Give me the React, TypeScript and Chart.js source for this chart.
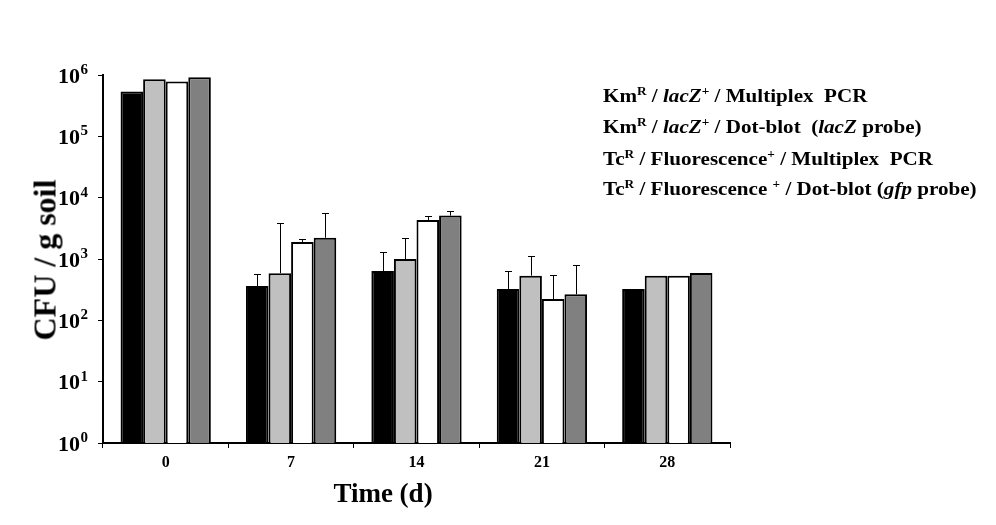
import React, { useEffect, useRef } from "react";
import { Chart, registerables } from "chart.js";

Chart.register(...registerables);

const categories = ["0", "7", "14", "21", "28"];
const kmPcr = [540000, 363, 635, 325, 325];
const kmDot = [850000, 587, 1000, 535, 535];
const tcPcr = [780000, 1900, 4330, 223, 535];
const tcDot = [920000, 2220, 5100, 265, 590];
const kmPcrErr = [0, 199, 665, 303, 0];
const kmDotErr = [0, 3213, 1180, 585, 0];
const tcPcrErr = [0, 190, 690, 317, 0];
const tcDotErr = [0, 3340, 1030, 541, 0];
const yExponents = [0, 1, 2, 3, 4, 5, 6];

const errors = [kmPcrErr, kmDotErr, tcPcrErr, tcDotErr];
const SERIF = "'Liberation Serif', 'Times New Roman', serif";

const errPlugin = {
  id: "errbars",
  afterDatasetsDraw(chart: any) {
    const ctx = chart.ctx;
    const y = chart.scales.y;
    chart.data.datasets.forEach((ds: any, i: number) => {
      const meta = chart.getDatasetMeta(i);
      meta.data.forEach((bar: any, j: number) => {
        const e = errors[i][j];
        if (!e) return;
        const v = ds.data[j];
        const yTop = Math.round(y.getPixelForValue(v + e)) + 0.5;
        const x = Math.round(bar.x) + 0.5;
        ctx.save();
        ctx.strokeStyle = "#000";
        ctx.lineWidth = 1;
        ctx.beginPath();
        ctx.moveTo(x, bar.y);
        ctx.lineTo(x, yTop);
        ctx.moveTo(x - 3.5, yTop);
        ctx.lineTo(x + 3.5, yTop);
        ctx.stroke();
        ctx.restore();
      });
    });
  },
  afterDraw(chart: any) {
    const ctx = chart.ctx;
    const y = chart.scales.y;
    ctx.save();
    ctx.fillStyle = "#000";
    ctx.textBaseline = "alphabetic";
    yExponents.forEach((e) => {
      const py = y.getPixelForValue(Math.pow(10, e));
      const right = 88;
      ctx.font = `bold 15px ${SERIF}`;
      const expStr = String(e);
      const w2 = ctx.measureText(expStr).width;
      ctx.textAlign = "left";
      ctx.fillText(expStr, right - w2, py - 1);
      ctx.font = `bold 22px ${SERIF}`;
      ctx.textAlign = "right";
      ctx.fillText("10", right - w2 - 0.5, py + 7.5);
    });
    ctx.restore();
  },
};

export default function App() {
  const ref = useRef<HTMLCanvasElement>(null);
  useEffect(() => {
    if (!ref.current) return;
    const mk = (label: string, data: number[], color: string) => ({
      label,
      data,
      backgroundColor: color,
      borderColor: "#000",
      borderWidth: 2,
      borderSkipped: "bottom" as const,
    });
    const chart = new Chart(ref.current, {
      type: "bar",
      data: {
        labels: categories,
        datasets: [
          mk("KmR / lacZ+ / Multiplex PCR", kmPcr, "#000000"),
          mk("KmR / lacZ+ / Dot-blot (lacZ probe)", kmDot, "#c0c0c0"),
          mk("TcR / Fluorescence+ / Multiplex PCR", tcPcr, "#ffffff"),
          mk("TcR / Fluorescence + / Dot-blot (gfp probe)", tcDot, "#808080"),
        ],
      },
      options: {
        responsive: false,
        animation: false,
        devicePixelRatio: 1,
        layout: { padding: { left: 1, top: 75, right: 266, bottom: 0 } },
        datasets: { bar: { categoryPercentage: 0.72, barPercentage: 1 } },
        plugins: { legend: { display: false }, tooltip: { enabled: false } },
        scales: {
          x: {
            grid: { display: true, offset: true, drawOnChartArea: false, drawTicks: true, tickLength: 5, color: "#000", lineWidth: 1 },
            border: { display: true, color: "#000", width: 2 },
            ticks: { color: "#000", font: { family: SERIF, size: 16, weight: "bold" }, padding: 5 },
            afterFit: (s: any) => { s.height = 82; },
          },
          y: {
            type: "logarithmic",
            min: 1,
            max: 1000000,
            afterBuildTicks: (s: any) => { s.ticks = yExponents.map((e) => ({ value: Math.pow(10, e) })); },
            grid: { display: true, drawOnChartArea: false, drawTicks: true, tickLength: 5, color: "#000", lineWidth: 1 },
            border: { display: true, color: "#000", width: 2 },
            ticks: { display: false },
            afterFit: (s: any) => { s.width = 102; },
          },
        },
      },
      plugins: [errPlugin],
    } as any);
    return () => chart.destroy();
  }, []);

  const legendLine = (top: number, children: React.ReactNode) => (
    <div style={{ position: "absolute", left: 603, top, fontSize: 19, lineHeight: "19px", whiteSpace: "pre", fontWeight: "bold", transform: "scaleX(1.11)", transformOrigin: "0 50%" }}>{children}</div>
  );
  const sup = (t: string) => (
    <span style={{ fontSize: 12, position: "relative", top: -7 }}>{t}</span>
  );

  return (
    <div style={{ position: "fixed", left: 0, top: 0, width: 996, height: 525, background: "#fff", fontFamily: SERIF, color: "#000" }}>
      <canvas ref={ref} width={996} height={525} style={{ width: 996, height: 525, display: "block" }} />
      {legendLine(86, <>Km{sup("R")} / <i>lacZ</i>{sup("+")} / Multiplex  PCR</>)}
      {legendLine(117, <>Km{sup("R")} / <i>lacZ</i>{sup("+")} / Dot-blot  (<i>lacZ</i> probe)</>)}
      {legendLine(149, <>Tc{sup("R")} / Fluorescence{sup("+")} / Multiplex  PCR</>)}
      {legendLine(179, <>Tc{sup("R")} / Fluorescence {sup("+")} / Dot-blot (<i>gfp</i> probe)</>)}
      <div style={{ position: "absolute", left: 45, top: 260, transform: "translate(-50%, -50%) rotate(-90deg)", fontSize: 32, fontWeight: "bold", whiteSpace: "pre" }}>CFU / g soil</div>
      <div style={{ position: "absolute", left: 383, top: 493, transform: "translate(-50%, -50%)", fontSize: 27, fontWeight: "bold", whiteSpace: "pre" }}>Time (d)</div>
    </div>
  );
}
